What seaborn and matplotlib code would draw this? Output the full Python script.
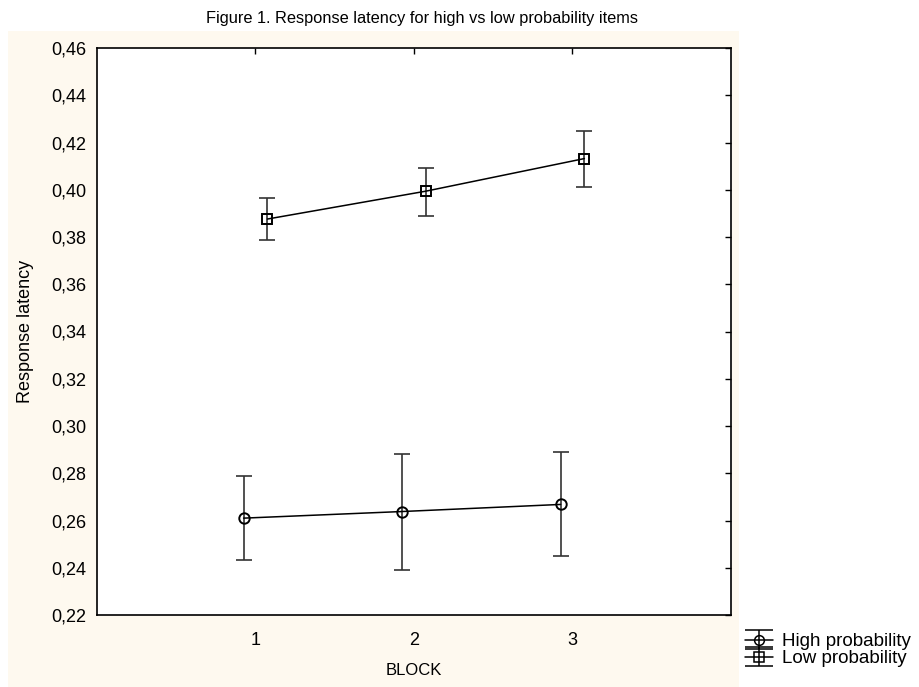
import matplotlib
matplotlib.use("Agg")
import matplotlib.pyplot as plt
import seaborn as sns
import pandas as pd
import numpy as np
from matplotlib.patches import Rectangle

blocks = [1, 2, 3]
groups = ["High probability", "Low probability"]
high_mean = [0.2610, 0.2638, 0.2668]
high_lo = [0.2432, 0.2391, 0.2448]
high_hi = [0.2789, 0.2881, 0.2888]
low_mean = [0.3876, 0.3994, 0.4132]
low_lo = [0.3787, 0.3889, 0.4013]
low_hi = [0.3967, 0.4094, 0.4250]
yticks = [0.22, 0.24, 0.26, 0.28, 0.30, 0.32, 0.34, 0.36, 0.38, 0.40, 0.42, 0.44, 0.46]
ytick_labels = ["0,22", "0,24", "0,26", "0,28", "0,30", "0,32", "0,34", "0,36",
                "0,38", "0,40", "0,42", "0,44", "0,46"]
xtick_labels = ["1", "2", "3"]

sns.set_theme(style="white")
plt.rcParams['font.family'] = ['Liberation Sans', 'DejaVu Sans']

dodge = {"High probability": -0.075, "Low probability": 0.075}
rows = []
for g, m, lo, hi in [("High probability", high_mean, high_lo, high_hi),
                     ("Low probability", low_mean, low_lo, low_hi)]:
    for b, mv, l, h in zip(blocks, m, lo, hi):
        rows.append({"block": b, "x": b + dodge[g], "group": g, "mean": mv, "lo": l, "hi": h})
df = pd.DataFrame(rows)

fig = plt.figure(figsize=(9.2, 6.87), dpi=100, facecolor="white")
bg = Rectangle((8 / 920, 0), (739 - 8) / 920, (687 - 31) / 687,
               transform=fig.transFigure, facecolor="#FEF9EF",
               edgecolor="none", zorder=-10)
fig.add_artist(bg)
ax = fig.add_axes([97 / 920, 1 - 615 / 687, (731 - 97) / 920, (615 - 48) / 687])
ax.set_zorder(1)
ax.set_facecolor("white")

markers = {"High probability": "o", "Low probability": "s"}
sns.lineplot(data=df, x="x", y="mean", hue="group", style="group",
             palette={g: "black" for g in groups}, markers=markers, dashes=False,
             markersize=7.5, markerfacecolor="none", markeredgecolor="black",
             markeredgewidth=1.4, linewidth=1.1, legend=False, ax=ax, zorder=3)

handles = []
for g in groups:
    sub = df[df.group == g]
    ax.errorbar(sub["x"], sub["mean"],
                yerr=[sub["mean"] - sub["lo"], sub["hi"] - sub["mean"]],
                fmt="none", ecolor="#333333", elinewidth=1.2, capsize=6, capthick=1.2, zorder=2)
    h = ax.errorbar([np.nan], [np.nan], yerr=[[np.nan], [np.nan]], fmt="-" + markers[g],
                    color="black", mfc="none", mec="black", ms=7, mew=1.1,
                    elinewidth=1.1, capsize=10, capthick=1.1, lw=1.1)
    handles.append(h)

ax.set_xlim(0, 4)
ax.set_ylim(0.22, 0.46)
ax.set_xticks(blocks)
ax.set_xticklabels(xtick_labels)
ax.set_yticks(yticks)
ax.set_yticklabels(ytick_labels)
ax.tick_params(axis="both", labelsize=13, colors="black")
ax.tick_params(axis="x", top=True, bottom=False, direction="in", length=4, width=1,
               labeltop=False, pad=12)
ax.tick_params(axis="y", right=True, left=False, direction="in", length=4, width=1,
               labelright=False, pad=8)
for s in ax.spines.values():
    s.set_visible(True)
    s.set_color("black")
    s.set_linewidth(1.2)

ax.set_xlabel("BLOCK", fontsize=12, color="black", labelpad=10)
ax.set_ylabel("Response latency", fontsize=13, color="black", labelpad=12)
fig.text(422 / 920, 1 - 18 / 687, "Figure 1. Response latency for high vs low probability items",
         ha="center", va="center", fontsize=11.8, color="black")

leg = fig.legend(handles, groups, loc="upper left", bbox_to_anchor=(745 / 920, 1 - 633 / 687),
                 frameon=False, fontsize=13.5, handlelength=1.5, handletextpad=0.45,
                 labelspacing=0.0, borderaxespad=0, borderpad=0)
for t in leg.get_texts():
    t.set_color("black")

fig.savefig("out.png", dpi=100, facecolor="white")
